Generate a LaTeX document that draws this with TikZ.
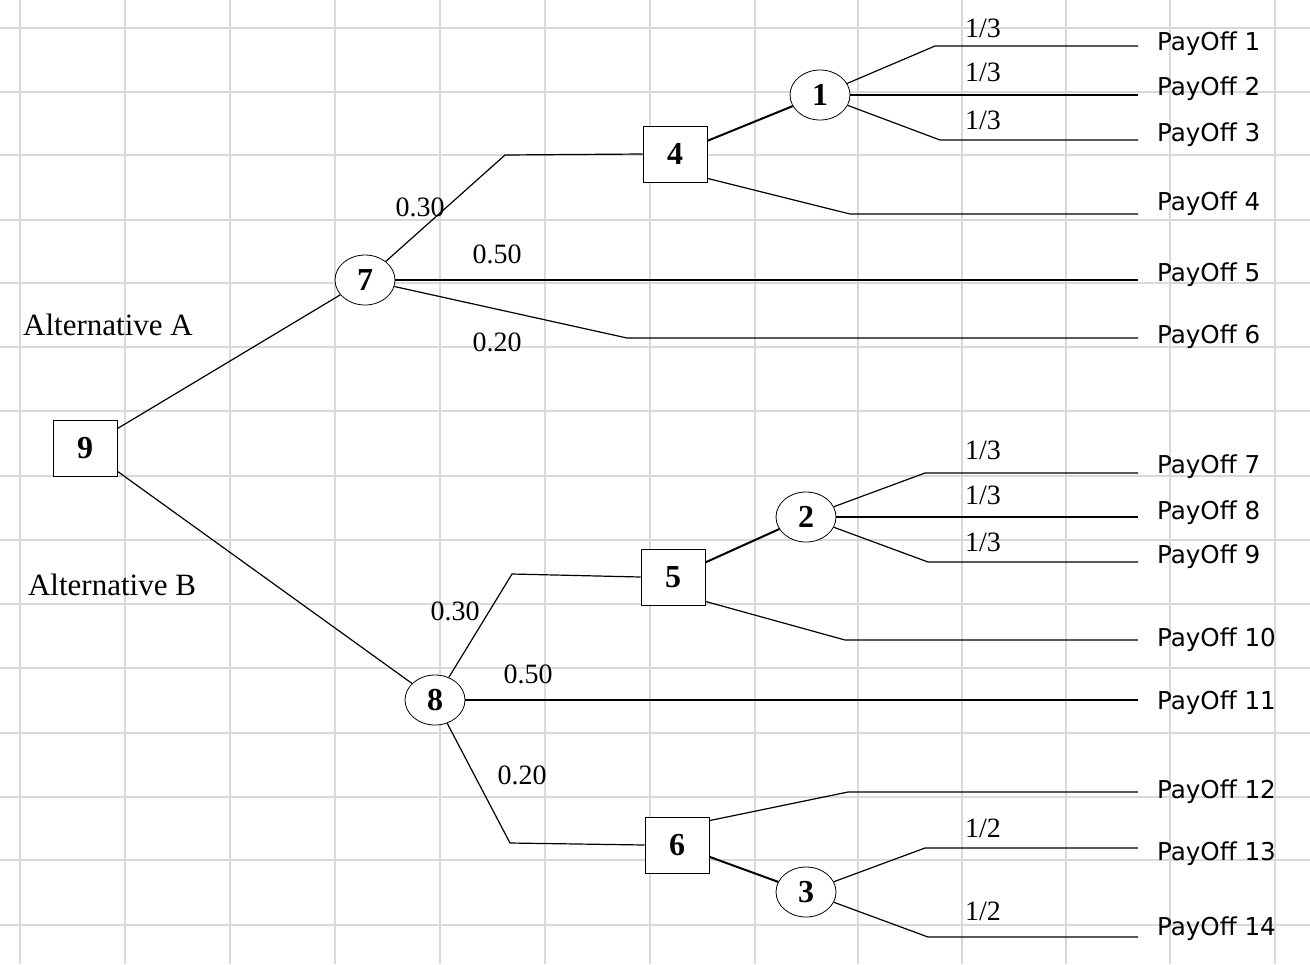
\documentclass[tikz,border=0pt]{standalone}
\usepackage{fontspec}
\setmainfont{Liberation Serif}
\newfontfamily\pay{DejaVu Sans}
\usetikzlibrary{shapes.geometric}
\begin{document}
\begin{tikzpicture}[x=0.5pt,y=-0.5pt,
  dec/.style={draw,minimum width=32pt,minimum height=28pt,inner sep=0pt,font=\fontsize{16}{16}\selectfont\bfseries},
  chn/.style={draw,ellipse,minimum width=30pt,minimum height=25pt,inner sep=0pt,font=\fontsize{16}{16}\selectfont\bfseries},
  ln/.style={line width=0.6pt},
  pr/.style={font=\fontsize{14}{14}\selectfont},
  po/.style={anchor=west,font=\pay\fontsize{12.3}{13}\selectfont},
  alt/.style={font=\fontsize{15.5}{16}\selectfont}]
\useasboundingbox (0,0) rectangle (1310,964);
\foreach \x in {20,125,230,335,440,545,650,755,858,962,1066,1170,1275}
  \draw[black!15,line width=0.7pt] (\x,0) -- (\x,964);
\foreach \y in {28,92,155,220,283,347,411,476,540,604,668,733,797,860,925}
  \draw[black!15,line width=0.7pt] (0,\y) -- (1310,\y);
% nodes
\node[dec,fill=white] (n9) at (85,448) {9};
\node[chn,fill=white] (n7) at (365,280) {7};
\node[dec,fill=white] (n4) at (675,154) {4};
\node[chn,fill=white] (n1) at (820,95) {1};
\node[dec,fill=white] (n5) at (673,577) {5};
\node[chn,fill=white] (n2) at (806,517) {2};
\node[chn,fill=white] (n8) at (435,700) {8};
\node[dec,fill=white] (n6) at (677,845) {6};
\node[chn,fill=white] (n3) at (806,892) {3};
% payoff labels
\foreach \i/\y in {1/44,2/89,3/135,4/204,5/275,6/337,7/467,8/513,9/557,10/640,11/703,12/792,13/854,14/929}
  \node[po] (p\i) at (1150,\y) {PayOff \i};
\foreach \n/\y in {a/46,b/92,c/140,d/214,e/284,f/338,g/473,h/517,i/562,j/640,k/701,l/792,m/848,n/937}
  \coordinate (e\n) at (1138,\y);
% connectors
\draw[ln] (n9) -- (n7);
\draw[ln] (n9) -- (n8);
\draw[ln] (n7) -- (505,155) -- (n4.west);
\draw[line width=1pt] (n7.east) -- (n7.east -| ee);
\draw[ln] (n7) -- (627,338) -- (ef);
\draw[line width=1pt] (n4) -- (n1);
\draw[ln] (n1) -- (935,46) -- (ea);
\draw[line width=1pt] (n1.east) -- (n1.east -| eb);
\draw[ln] (n1) -- (940,140) -- (ec);
\draw[ln] (n4.south east) ++(0,-4) -- (850,214) -- (ed);
\draw[ln] (n8) -- (512,574) -- (n5.west);
\draw[line width=1pt] (n8.east) -- (n8.east -| ek);
\draw[ln] (n8) -- (510,843) -- (n6.west);
\draw[line width=1pt] (n5) -- (n2);
\draw[ln] (n2) -- (925,473) -- (eg);
\draw[line width=1pt] (n2.east) -- (n2.east -| eh);
\draw[ln] (n2) -- (928,562) -- (ei);
\draw[ln] (n5.south east) ++(0,-4) -- (845,640) -- (ej);
\draw[ln] (n6.north east) ++(0,4) -- (848,792) -- (el);
\draw[line width=1pt] (n6) -- (n3);
\draw[ln] (n3) -- (925,848) -- (em);
\draw[ln] (n3) -- (928,937) -- (en);
% labels
\node[pr] (l1) at (420,207) {0.30};
\node[pr] (l2) at (497,254) {0.50};
\node[pr] (l3) at (497,342) {0.20};
\node[pr] (l4) at (983,28) {1/3};
\node[pr] (l5) at (983,72) {1/3};
\node[pr] (l6) at (983,120) {1/3};
\node[pr] (l7) at (455,611) {0.30};
\node[pr] (l8) at (528,674) {0.50};
\node[pr] (l9) at (522,775) {0.20};
\node[pr] (l10) at (983,450) {1/3};
\node[pr] (l11) at (983,495) {1/3};
\node[pr] (l12) at (983,542) {1/3};
\node[pr] (l13) at (983,828) {1/2};
\node[pr] (l14) at (983,911) {1/2};
\node[alt] (aa) at (108,325) {Alternative A};
\node[alt] (ab) at (112,585) {Alternative B};
\end{tikzpicture}
\end{document}
